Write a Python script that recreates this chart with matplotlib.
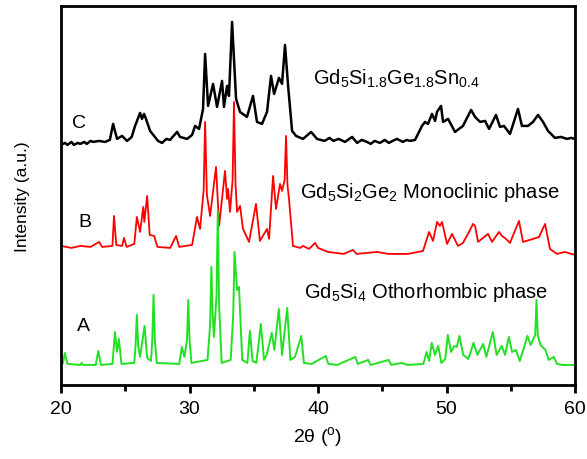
import matplotlib
matplotlib.use("Agg")
import matplotlib.pyplot as plt
from matplotlib.ticker import MultipleLocator

plt.rcParams['font.family'] = ['Liberation Sans', 'DejaVu Sans']
plt.rcParams['mathtext.fontset'] = 'custom'
plt.rcParams['mathtext.rm'] = 'Liberation Sans'
plt.rcParams['mathtext.it'] = 'Liberation Sans:italic'
plt.rcParams['mathtext.bf'] = 'Liberation Sans:bold'

# ---- Curve C (black): Gd5Si1.8Ge1.8Sn0.4 ----
c_x = [20.0, 20.3, 20.5, 20.8, 21.0, 21.3, 21.5, 21.8, 22.0, 22.3, 22.5, 22.96, 23.42, 23.8, 24.05,
       24.36, 24.75, 25.14, 25.5, 25.76,
       26.15, 26.30, 26.46, 26.61, 26.93, 27.3, 27.55, 27.86, 28.2, 28.48, 29.03, 29.26, 29.81, 30.2,
       30.43, 30.74, 31.05, 31.21, 31.44, 31.83, 32.14, 32.53, 32.68, 32.92, 33.07, 33.31, 33.62,
       33.93, 34.47, 34.94, 35.25, 35.64, 36.03, 36.34, 36.58, 36.96, 37.20, 37.43, 37.67, 37.98,
       38.29, 38.83, 39.46, 39.92, 40.5, 40.9, 41.2, 41.6, 42.10, 42.65, 43.04, 43.4, 43.81, 44.1,
       44.4, 44.82, 45.2, 45.5, 45.8, 46.15, 46.6, 46.9, 47.16, 47.55, 48.09, 48.33, 48.56, 48.87,
       49.11, 49.26, 49.57, 49.73, 50.12, 50.66, 51.28, 51.91, 52.22, 52.61, 53.00, 53.31, 53.85,
       54.16, 54.47, 54.94, 55.56, 55.87, 56.34, 56.73, 57.12, 57.51, 57.90, 58.44, 58.9, 59.38,
       59.7, 60.0]
c_y = [240, 242, 240, 243, 240, 242, 241, 243, 241, 244, 243, 244, 243, 245, 261,
       246, 249, 244, 248, 259,
       272, 266, 271, 266, 254, 248, 244, 242, 246, 245, 253, 248, 246, 250,
       259, 256, 276, 331, 279, 301, 278, 304, 278, 299, 289, 363, 286,
       273, 268, 289, 263, 261, 273, 309, 291, 307, 301, 340, 299, 254,
       249, 246, 253, 246, 244, 247, 244, 246, 243, 248, 242, 245, 243, 241,
       244, 242, 245, 242, 244, 246, 243, 245, 244, 245, 259, 263, 261, 271,
       264, 273, 279, 263, 266, 253, 259, 275, 268, 263, 264, 256, 270,
       258, 259, 251, 276, 259, 259, 263, 270, 263, 254, 247, 248, 246,
       247, 246]

# ---- Curve B (red): Gd5Si2Ge2 monoclinic ----
b_x = [20.0, 20.8, 21.5, 22.3, 22.96, 23.2, 24.0, 24.12, 24.3, 24.75, 24.9, 25.1, 25.7, 25.9,
       26.15, 26.4, 26.48, 26.7, 26.9, 27.25, 27.5, 28.5, 28.95, 29.2, 30.2, 30.58, 30.82, 31.1,
       31.21, 31.35, 31.60, 32.06, 32.30, 32.76, 32.92, 33.0, 33.15, 33.35, 33.46, 33.58, 33.70,
       33.93, 34.16, 34.63, 35.17, 35.48, 36.03, 36.19, 36.50, 36.73, 37.04, 37.20, 37.40, 37.51,
       37.62, 37.74, 38.05, 38.6, 38.83, 39.3, 39.77, 40.0, 40.78, 42.0, 42.72, 43.0, 44.59, 45.5,
       47.0, 48.17, 48.64, 48.95, 49.26, 49.49, 49.65, 50.04, 50.43, 50.89, 51.28, 51.75, 52.06,
       52.22, 52.45, 53.23, 53.54, 54.08, 54.32, 54.63, 54.94, 55.64, 55.95, 56.73, 57.20, 57.67,
       58.05, 58.6, 59.2, 60.0]
b_y = [139, 137, 139, 138, 143, 138, 139, 169, 140, 139, 147, 138, 141, 168,
       153, 178, 163, 189, 150, 149, 138, 137, 149, 138, 140, 168, 156, 195,
       263, 190, 169, 218, 159, 214, 186, 196, 173, 205, 283, 200, 173,
       179, 156, 143, 181, 144, 156, 146, 209, 176, 201, 194, 205, 249,
       200, 186, 139, 137, 139, 136, 142, 137, 133, 131, 135, 131, 133, 131,
       131, 134, 153, 144, 163, 159, 163, 141, 151, 139, 142, 153, 161,
       159, 143, 151, 143, 153, 149, 146, 142, 164, 143, 146, 148, 161,
       136, 131, 133, 130]

# ---- Curve A (green): Gd5Si4 orthorhombic ----
a_x = [20.0, 20.15, 20.3, 20.5, 21.5, 21.6, 21.7, 22.7, 22.9, 23.1, 24.0, 24.2, 24.35, 24.5,
       24.7, 25.7, 25.8, 25.9, 26.0, 26.15, 26.5, 26.7, 27.0, 27.1, 27.2, 27.3, 27.45, 29.2, 29.4,
       29.6, 29.8, 29.9, 30.0, 30.15, 31.4, 31.6, 31.7, 31.8, 31.9, 32.1, 32.2, 32.3, 32.5, 33.2,
       33.4, 33.5, 33.7, 33.85, 34.1, 34.5, 34.7, 34.9, 35.2,
       35.55, 35.8, 36.0, 36.4, 36.6, 36.95, 37.2, 37.6, 37.85, 38.2, 38.7, 38.9, 39.5, 40.6,
       40.8, 41.5, 42.9, 43.1, 43.9, 44.1, 45.5, 45.7, 46.5, 47.0, 48.2, 48.45, 48.65, 48.85,
       49.1, 49.35, 49.6, 49.9, 50.1, 50.35, 50.6, 50.8, 51.0, 51.3, 51.7, 52.1, 52.4, 52.85,
       53.1, 53.6, 53.9, 54.3, 54.55, 54.85, 55.1, 55.4, 55.7, 56.3, 56.55, 56.9, 57.0, 57.1,
       57.3, 57.7, 57.95, 58.35, 58.6, 59.0, 60.0]
a_y = [20, 22, 32, 21, 20, 22, 20, 20, 34, 20, 21, 53, 33, 46,
       21, 22, 40, 70, 40, 28, 59, 27, 24, 45, 90, 45, 22, 21, 38,
       28, 45, 85, 45, 22, 25, 60, 118, 70, 48, 90, 174, 80, 22, 25,
       70, 133, 95, 98, 25, 22, 54, 24, 22,
       61, 25, 30, 52, 35, 76, 30, 77, 25, 28, 49, 22, 21, 29,
       21, 20, 28, 21, 25, 20, 25, 20, 22, 20, 21, 33, 24, 42,
       30, 39, 22, 26, 50, 33, 39, 38, 49, 30, 26, 42, 30, 41,
       28, 53, 30, 39, 30, 48, 33, 35, 24, 49, 40, 50, 85, 50,
       40, 35, 25, 28, 21, 20, 20]

x_ticks = [20, 30, 40, 50, 60]

fig = plt.figure(figsize=(5.87, 4.60), dpi=100)
ax = fig.add_axes([0.104, 0.161, 0.8756, 0.824])

ax.plot(c_x, c_y, color='black', lw=1.8)
ax.plot(b_x, b_y, color='#ff0000', lw=1.3)
ax.plot(a_x, a_y, color='#22e022', lw=1.4)

ax.set_xlim(20, 60)
ax.set_ylim(0, 379)
ax.set_xticks(x_ticks)
ax.xaxis.set_minor_locator(MultipleLocator(5))
ax.set_yticks([])
ax.tick_params(axis='x', which='major', direction='out', length=6, width=2, labelsize=14, pad=5)
ax.tick_params(axis='x', which='minor', direction='out', length=4, width=2)
for s in ax.spines.values():
    s.set_linewidth(2)

ax.set_xlabel('2θ ($^\\mathrm{o}$)', fontsize=14, labelpad=5)
ax.set_ylabel('Intensity (a.u.)', fontsize=12.5, labelpad=22)

ax.text(21.4, 262, 'C', fontsize=14, ha='center', va='center')
ax.text(21.87, 163, 'B', fontsize=14, ha='center', va='center')
ax.text(21.71, 59, 'A', fontsize=14, ha='center', va='center')

ax.text(39.61, 301, 'Gd$_5$Si$_{1.8}$Ge$_{1.8}$Sn$_{0.4}$', fontsize=14.5, ha='left', va='baseline')
ax.text(38.6, 188, 'Gd$_5$Si$_2$Ge$_2$ Monoclinic phase', fontsize=14.5, ha='left', va='baseline')
ax.text(38.91, 88, 'Gd$_5$Si$_4$ Othorhombic phase', fontsize=14.5, ha='left', va='baseline')

fig.savefig('out.png', dpi=100)
